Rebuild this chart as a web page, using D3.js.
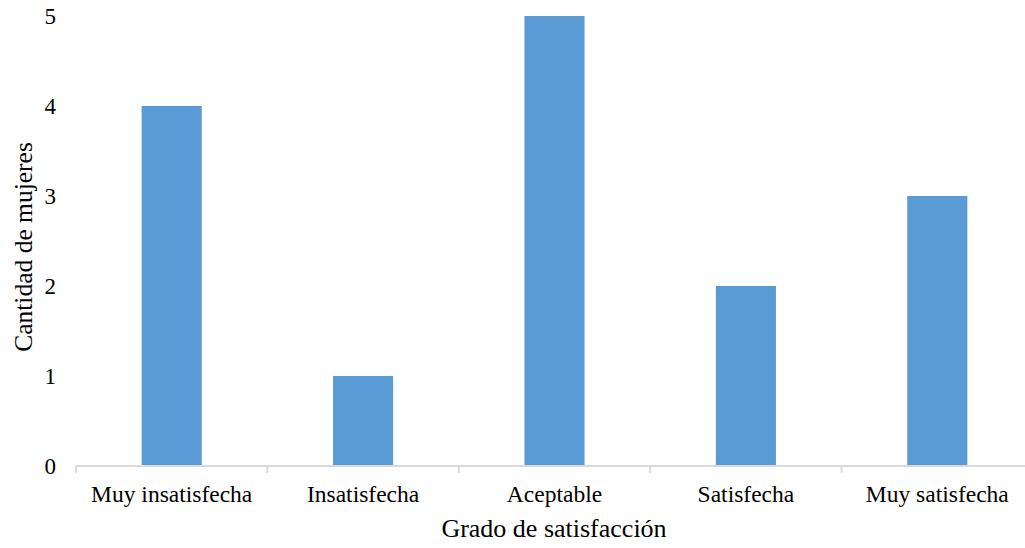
<!DOCTYPE html>
<html>
<head>
<meta charset="utf-8">
<script src="https://cdn.jsdelivr.net/npm/d3@7"></script>
<style>
  html, body { margin: 0; padding: 0; background: #fff; }
  svg { display: block; font-family: "Liberation Serif", "Times New Roman", serif; }
</style>
</head>
<body>
<svg id="chart" width="1025" height="548"></svg>
<script>
// Satisfaction levels and number of women in each
const categories = ["Muy insatisfecha", "Insatisfecha", "Aceptable", "Satisfecha", "Muy satisfecha"];
const counts = [4, 1, 5, 2, 3];
const yTicks = [0, 1, 2, 3, 4, 5];

const svg = d3.select("#chart");
const margin = { left: 76, right: -8, top: 16, bottom: 82 };
const W = 1025, H = 548;

const x = d3.scaleBand()
  .domain(categories)
  .range([margin.left, W - margin.right])
  .paddingInner(0.686)
  .paddingOuter(0.343);

const y = d3.scaleLinear()
  .domain([0, 5])
  .range([H - margin.bottom, margin.top]);

// Bars
svg.append("g").selectAll("rect")
  .data(categories)
  .join("rect")
  .attr("x", d => x(d))
  .attr("width", x.bandwidth())
  .attr("y", (d, i) => y(counts[i]))
  .attr("height", (d, i) => y(0) - y(counts[i]))
  .attr("fill", "#5B9BD5");

// Category axis with ticks between bands
const band = x.step();
const xAxisG = svg.append("g").attr("transform", `translate(0,${y(0)})`);
xAxisG.append("line")
  .attr("x1", margin.left).attr("x2", W)
  .attr("stroke", "#d9d9d9").attr("stroke-width", 2);
xAxisG.selectAll("line.tick")
  .data(d3.range(categories.length))
  .join("line")
  .attr("class", "tick")
  .attr("x1", i => margin.left + i * band)
  .attr("x2", i => margin.left + i * band)
  .attr("y1", 0).attr("y2", 7)
  .attr("stroke", "#d9d9d9").attr("stroke-width", 2);
xAxisG.selectAll("text")
  .data(categories)
  .join("text")
  .attr("x", d => x(d) + x.bandwidth() / 2)
  .attr("y", 35.5)
  .attr("text-anchor", "middle")
  .attr("font-size", 23.5)
  .attr("fill", "#000")
  .text(d => d);

// Value axis labels (no axis line)
svg.append("g").selectAll("text")
  .data(yTicks)
  .join("text")
  .attr("x", 56)
  .attr("y", d => y(d))
  .attr("dy", "0.35em")
  .attr("text-anchor", "end")
  .attr("font-size", 23)
  .attr("fill", "#000")
  .text(d => d);

// Axis titles
svg.append("text")
  .attr("x", 554)
  .attr("y", 537)
  .attr("text-anchor", "middle")
  .attr("font-size", 26)
  .attr("fill", "#000")
  .text("Grado de satisfacción");

svg.append("text")
  .attr("transform", `translate(32,${(y(0) + y(5)) / 2 + 6}) rotate(-90)`)
  .attr("text-anchor", "middle")
  .attr("font-size", 25.5)
  .attr("fill", "#000")
  .text("Cantidad de mujeres");
</script>
</body>
</html>
